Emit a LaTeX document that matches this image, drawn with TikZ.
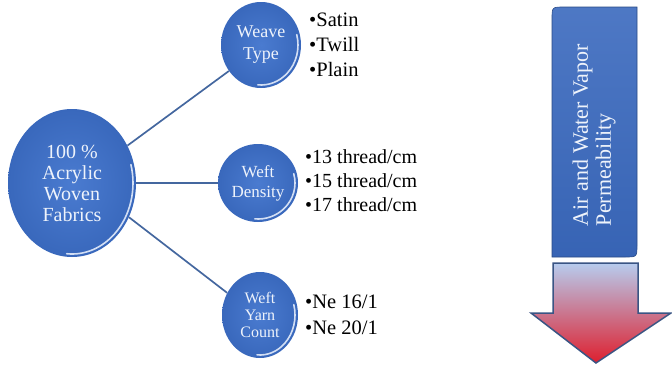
\documentclass[tikz,border=0pt]{standalone}
\usepackage{fontspec}
\setmainfont{Liberation Serif}
\usetikzlibrary{shapes.geometric}
\definecolor{ballblue}{HTML}{4A7BD0}
\definecolor{balldark}{HTML}{3968BC}
\definecolor{ballrim}{HTML}{E4ECFA}
\definecolor{connblue}{HTML}{44679F}
\definecolor{boxblue}{HTML}{3A69BE}
\definecolor{arrowline}{HTML}{3A5584}
\definecolor{arrowtop}{HTML}{B7CCEE}
\definecolor{arrowmid}{HTML}{E7A2AE}
\definecolor{arrowbot}{HTML}{DE1F2E}
\definecolor{txtwhite}{HTML}{EEF3FB}
\tikzset{
  bub/.style={ellipse, inner sep=0pt, shading=radial, inner color=ballblue, outer color=balldark,
    text=txtwhite, align=center},
  conn/.style={draw=connblue, line width=1.7pt},
  items/.style={anchor=west, align=left, inner sep=0pt, text=black},
  rim/.style={draw=ballrim, line width=1.6pt, opacity=0.9, line cap=round}
}
% light rim along the lower right of a bubble: centre, x radius, y radius (in pt)
\newcommand\bubblerim[3]{%
  \begin{scope}[shift={(#1)}, x=1pt, y=1pt]
    \draw[rim] (15:#2 and #3) arc[start angle=15, end angle=-95, x radius=#2, y radius=#3];
  \end{scope}}
\begin{document}
\begin{tikzpicture}[x=1pt,y=-1pt]
\useasboundingbox (0,0) rectangle (672,367);

\coordinate (mc) at (72,183);
\coordinate (wc) at (261,45);
\coordinate (dc) at (258,183);
\coordinate (yc) at (260,315);

% bubbles
\node[bub, minimum width=128pt, minimum height=148pt, font=\fontsize{20}{21}\selectfont] (main) at (mc)
  {100 \%\\Acrylic\\Woven\\Fabrics};
\node[bub, minimum width=80pt, minimum height=86pt, font=\fontsize{18}{22}\selectfont] (weave) at (wc)
  {Weave\\Type};
\node[bub, minimum width=80pt, minimum height=78pt, font=\fontsize{17}{20}\selectfont] (dens) at (dc)
  {Weft\\Density};
\node[bub, minimum width=76pt, minimum height=86pt, font=\fontsize{16}{17}\selectfont] (yarn) at (yc)
  {Weft\\Yarn\\Count};

\bubblerim{mc}{61}{71}
\bubblerim{wc}{37}{40}
\bubblerim{dc}{37}{36}
\bubblerim{yc}{35}{40}

% connectors
\draw[conn] (main.34) -- (weave.219);
\draw[conn] (main.east) -- (dens.west);
\draw[conn] (main.-31) -- (yarn.146);

% bullet lists
\node[items, font=\fontsize{20.5}{25}\selectfont] (wlist) at (309,45)
  {•Satin\\•Twill\\•Plain};
\node[items, font=\fontsize{20}{24}\selectfont] (dlist) at (305,181)
  {•13 thread/cm\\•15 thread/cm\\•17 thread/cm};
\node[items, font=\fontsize{20.5}{26}\selectfont] (ylist) at (305,315)
  {•Ne 16/1\\•Ne 20/1};

% property box with two rounded corners
\shade[top color=boxblue!90!white, bottom color=boxblue!95!black, draw=boxblue!70!black, line width=0.6pt]
  (552,257) -- (552,19) .. controls (552,7) .. (564,7) -- (637,7) -- (637,245)
  .. controls (637,257) .. (625,257) -- cycle;
\node[rotate=90, text=txtwhite, align=left, font=\fontsize{22}{23}\selectfont] (perm) at (594,135)
  {Air and Water Vapor\\Permeability};

% downward arrow
\shade[top color=arrowtop, middle color=arrowmid, bottom color=arrowbot, draw=arrowline, line width=1.5pt, line join=miter]
  (553,263) -- (638,263) -- (638,313) -- (671,313) -- (596,363) -- (531,313) -- (553,313) -- cycle;

\end{tikzpicture}
\end{document}
